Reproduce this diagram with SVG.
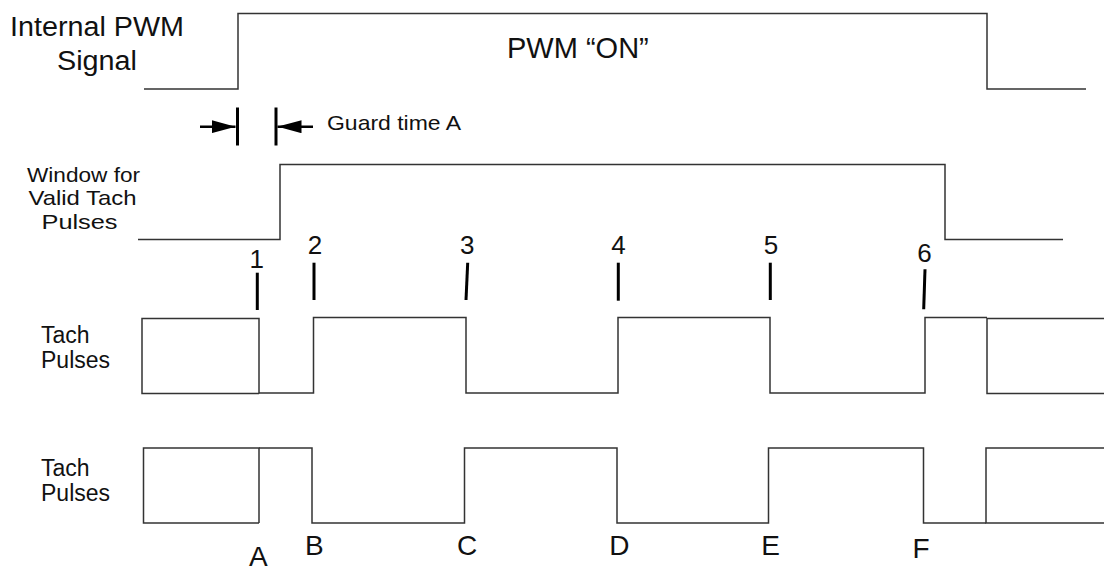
<svg xmlns="http://www.w3.org/2000/svg" width="1104" height="567" viewBox="0 0 1104 567">
<style>
.w{fill:none;stroke:#333;stroke-width:1.5;stroke-linejoin:miter}
.tk{stroke:#000;stroke-width:3;fill:none}
.t{font-family:"Liberation Sans",Arial,sans-serif;fill:#111}
.c{text-anchor:middle}
.n{font-size:26px}
.l{font-size:28px}
</style>
<defs>
<marker id="ah" viewBox="0 0 10 10" refX="10" refY="5" markerWidth="24" markerHeight="13" markerUnits="userSpaceOnUse" orient="auto" preserveAspectRatio="none">
<path d="M0,0 L10,5 L0,10 Z" fill="#000"/>
</marker>
</defs>
<rect width="1104" height="567" fill="#fff"/>
<g id="labels">
<text class="t" x="10" y="36" font-size="27" textLength="174" lengthAdjust="spacingAndGlyphs">Internal PWM</text>
<text class="t" x="57" y="70" font-size="27" textLength="80" lengthAdjust="spacingAndGlyphs">Signal</text>
<text class="t" x="507" y="58" font-size="29">PWM “ON”</text>
<text class="t" x="327" y="130" font-size="21" textLength="134" lengthAdjust="spacingAndGlyphs">Guard time A</text>
<text class="t" x="27" y="181.5" font-size="21" textLength="113" lengthAdjust="spacingAndGlyphs">Window for</text>
<text class="t" x="28.5" y="205" font-size="21" textLength="108" lengthAdjust="spacingAndGlyphs">Valid Tach</text>
<text class="t" x="41.5" y="228.5" font-size="21" textLength="76" lengthAdjust="spacingAndGlyphs">Pulses</text>
<text class="t" x="41" y="343" font-size="23">Tach</text>
<text class="t" x="41" y="368" font-size="23">Pulses</text>
<text class="t" x="41" y="476" font-size="23">Tach</text>
<text class="t" x="41" y="501" font-size="23">Pulses</text>
</g>
<g id="pwm-signal"><path class="w" d="M144,89 H238 V13.5 H987 V89 H1086"/></g>
<g id="window"><path class="w" d="M138,239.5 H280 V164.5 H945 V239.5 H1063"/></g>
<g id="guard">
<line x1="200" y1="126.7" x2="235.5" y2="126.7" stroke="#000" stroke-width="2.5" marker-end="url(#ah)"/>
<line x1="313" y1="126.7" x2="277.5" y2="126.7" stroke="#000" stroke-width="2.5" marker-end="url(#ah)"/>
<line class="tk" x1="237.5" y1="107.5" x2="237.5" y2="145.5"/>
<line class="tk" x1="276" y1="107.5" x2="276" y2="145.5"/>
</g>
<g id="tach1">
<path class="w" d="M259,393.5 H142 V318.5 H259 V393.5"/>
<path class="w" d="M259,393 H313.5 V317.5 H466 V393 H618 V317.5 H770 V393 H925 V317.5 H987"/>
<path class="w" d="M1104,318.5 H987 V393.5 H1104"/>
</g>
<g id="tach2">
<path class="w" d="M259,523 H143.5 V448 H259 V523"/>
<path class="w" d="M259,448 H312 V523 H464.5 V448 H617 V523 H768.5 V448 H923.5 V523 H986"/>
<path class="w" d="M1104,448 H986 V523 H1104"/>
</g>
<g id="ticks">
<line class="tk" x1="257.3" y1="272.7" x2="257.3" y2="310"/>
<line class="tk" x1="314" y1="262.7" x2="314" y2="300"/>
<line class="tk" x1="467.7" y1="262.7" x2="466" y2="300"/>
<line class="tk" x1="618.3" y1="262.7" x2="618.3" y2="300.7"/>
<line class="tk" x1="770.3" y1="262.7" x2="770.3" y2="300"/>
<line class="tk" x1="925" y1="269.3" x2="923.7" y2="309.3"/>
</g>
<g id="numbers">
<text class="t c n" x="256.7" y="267.5">1</text>
<text class="t c n" x="315" y="253.5">2</text>
<text class="t c n" x="467.3" y="253.5">3</text>
<text class="t c n" x="618.5" y="253.5">4</text>
<text class="t c n" x="771" y="253.5">5</text>
<text class="t c n" x="924.5" y="262">6</text>
</g>
<g id="letters">
<text class="t c l" x="258.3" y="565.5">A</text>
<text class="t c l" x="314.3" y="554.5">B</text>
<text class="t c l" x="467" y="555">C</text>
<text class="t c l" x="619.3" y="554.5">D</text>
<text class="t c l" x="770.7" y="555">E</text>
<text class="t c l" x="921" y="557.5">F</text>
</g>
</svg>
